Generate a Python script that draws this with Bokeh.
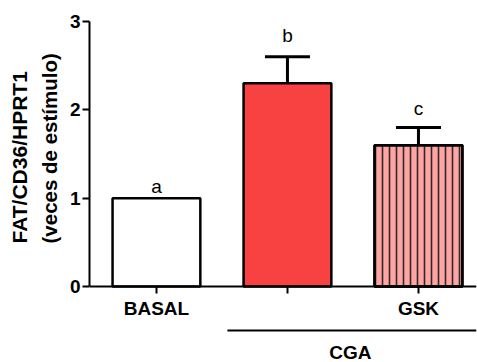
from bokeh.plotting import figure
from bokeh.models import Range1d, Whisker, ColumnDataSource, TeeHead, FixedTicker, Title
from bokeh.core.properties import value
from bokeh.embed import file_html
from bokeh.resources import INLINE

categories = ["BASAL", "", "GSK"]
xpos = [0, 1, 2]
means = [1.0, 2.3, 1.6]
errors = [0.0, 0.3, 0.2]
letters = ["a", "b", "c"]
letter_y = [1.13, 2.84, 2.02]
fills = ["#FFFFFF", "#F84242", "#FFA3A3"]
group_label = "CGA"
y_title = ["FAT/CD36/HPRT1", "(veces de estímulo)"]

FONT = "Liberation Sans"
X0, X1 = -0.511, 2.443
Y0, Y1 = -0.86, 3.0

p = figure(width=477, height=362, output_backend="svg", toolbar_location=None,
           x_range=Range1d(X0, X1), y_range=Range1d(Y0, Y1),
           min_border_left=89, min_border_right=1, min_border_top=21, min_border_bottom=0)
p.outline_line_color = None
p.grid.visible = False
p.background_fill_color = "white"

src = ColumnDataSource(dict(x=xpos, top=means, fill=fills))
p.vbar(x="x", top="top", bottom=0, width=0.67, source=src, fill_color="fill",
       line_color="black", line_width=2.5)
hsrc = ColumnDataSource(dict(x=[xpos[2]], top=[means[2]]))
p.vbar(x="x", top="top", bottom=0, width=0.67, source=hsrc, fill_alpha=0,
       hatch_pattern="|", hatch_scale=7, hatch_weight=1.6, hatch_color="#2a2a2a",
       line_color="black", line_width=2.5)

ex = [x for x, e in zip(xpos, errors) if e > 0]
elo = [m for m, e in zip(means, errors) if e > 0]
ehi = [m + e for m, e in zip(means, errors) if e > 0]
esrc = ColumnDataSource(dict(x=ex, lo=elo, hi=ehi))
w = Whisker(base="x", lower="lo", upper="hi", source=esrc, line_width=3, line_color="black",
            upper_head=TeeHead(size=45, line_width=3, line_color="black"), lower_head=None)
p.add_layout(w)

p.text(x=xpos, y=letter_y, text=letters, text_align="center", text_baseline="alphabetic",
       text_font=value(FONT), text_font_size="19px", text_color="black")

# CGA group line and label
p.segment(x0=[0.542], y0=[-0.498], x1=[X1], y1=[-0.498], line_color="black", line_width=2)
p.text(x=[1.48], y=[-0.75], text=[group_label], text_align="center", text_baseline="alphabetic",
       text_font=value(FONT), text_font_size="19px", text_font_style="bold", text_color="black")

xa = p.xaxis[0]
xa.fixed_location = 0
xa.ticker = FixedTicker(ticks=xpos)
xa.major_label_overrides = {x: c for x, c in zip(xpos, categories)}
xa.minor_tick_line_color = None
xa.major_tick_in = 0
xa.major_tick_out = 7
xa.major_tick_line_width = 2
xa.axis_line_width = 2
xa.axis_line_color = "black"
xa.major_label_text_font = FONT
xa.major_label_text_font_style = "bold"
xa.major_label_text_font_size = "19px"
xa.major_label_text_color = "black"
xa.major_label_standoff = 4

ya = p.yaxis[0]
ya.bounds = (0, 3)
ya.ticker = FixedTicker(ticks=[0, 1, 2, 3])
ya.minor_tick_line_color = None
ya.major_tick_in = 0
ya.major_tick_out = 7
ya.major_tick_line_width = 2
ya.axis_line_width = 2
ya.axis_line_color = "black"
ya.major_label_text_font = FONT
ya.major_label_text_font_style = "bold"
ya.major_label_text_font_size = "19px"
ya.major_label_text_color = "black"
ya.major_label_standoff = 2

# y title: two rotated lines on the left (inner line added first), both starting level
p.add_layout(Title(text=y_title[1], align="left", offset=119, standoff=11,
                   text_font=FONT, text_font_style="bold", text_font_size="20.5px",
                   text_color="black"), "left")
p.add_layout(Title(text=y_title[0], align="left", offset=119, standoff=0,
                   text_font=FONT, text_font_style="bold", text_font_size="21px",
                   text_color="black"), "left")

open("out.html", "w").write(file_html(p, INLINE))
